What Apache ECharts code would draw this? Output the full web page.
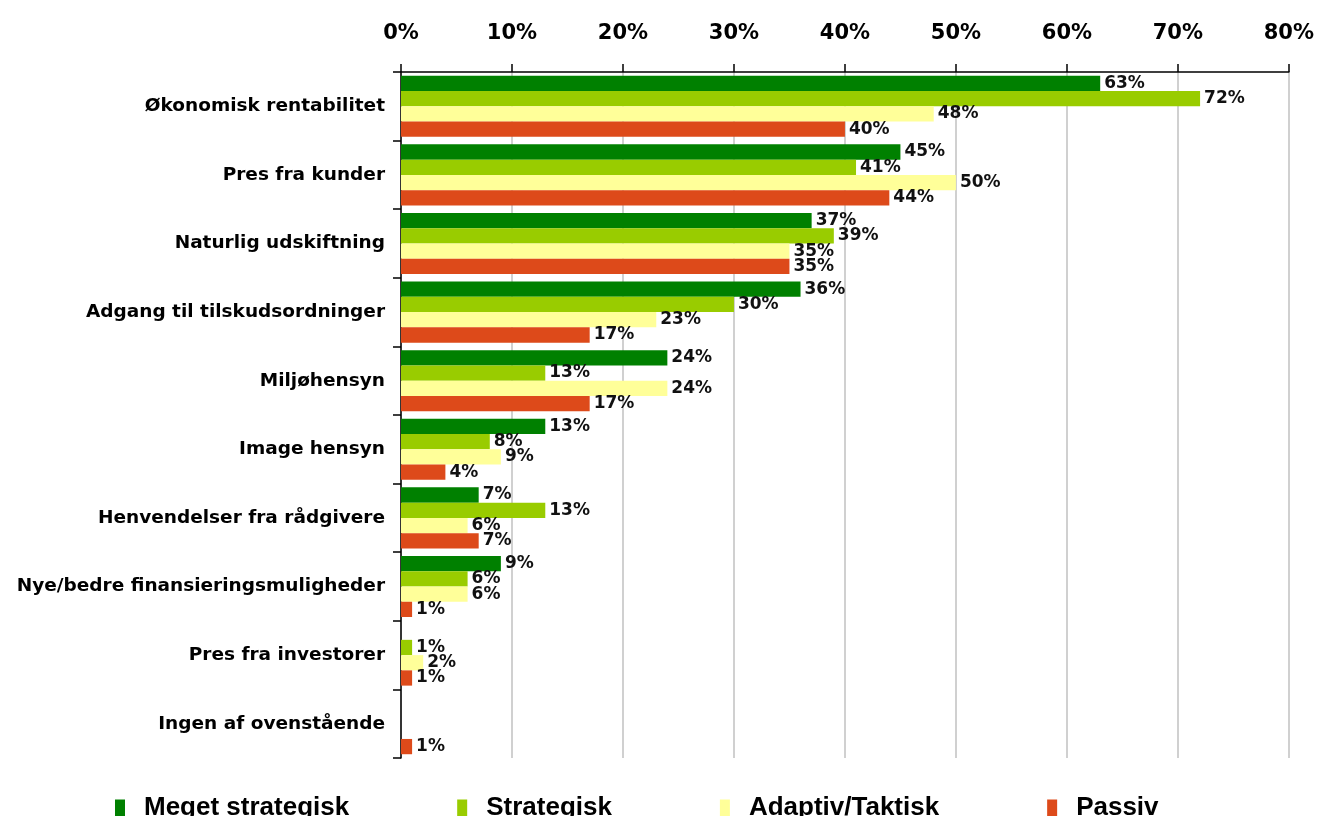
<!DOCTYPE html>
<html>
<head>
<meta charset="utf-8">
<script src="https://cdn.jsdelivr.net/npm/echarts@6/dist/echarts.min.js"></script>
<style>
  html, body { margin: 0; padding: 0; background: #fff; }
  #chart { width: 1317px; height: 816px; }
</style>
</head>
<body>
<div id="chart"></div>
<script>
// kategorier (oppefra og ned)
var categories = [
  'Økonomisk rentabilitet',
  'Pres fra kunder',
  'Naturlig udskiftning',
  'Adgang til tilskudsordninger',
  'Miljøhensyn',
  'Image hensyn',
  'Henvendelser fra rådgivere',
  'Nye/bedre finansieringsmuligheder',
  'Pres fra investorer',
  'Ingen af ovenstående'
];
var seriesNames = ['Meget strategisk', 'Strategisk', 'Adaptiv/Taktisk', 'Passiv'];
// værdier i procent, '-' = ingen søjle
var megetStrategisk = [63, 45, 37, 36, 24, 13, 7, 9, '-', '-'];
var strategisk      = [72, 41, 39, 30, 13, 8, 13, 6, 1, '-'];
var adaptivTaktisk  = [48, 50, 35, 23, 24, 9, 6, 6, 2, '-'];
var passiv          = [40, 44, 35, 17, 17, 4, 7, 1, 1, 1];
var colors = ['#008000', '#99cc00', '#ffff99', '#dd4a1a'];

var font = 'DejaVu Sans, Arial, sans-serif';

function bar(name, data, color) {
  return {
    name: name,
    type: 'bar',
    data: data,
    barGap: '0%',
    barCategoryGap: '11%',
    itemStyle: { color: color },
    label: {
      show: true,
      position: 'right',
      distance: 4,
      formatter: '{c}%',
      fontFamily: font,
      fontWeight: 'bold',
      fontSize: 17,
      color: '#111'
    }
  };
}

var myChart = echarts.init(document.getElementById('chart'));
myChart.setOption({
  animation: false,
  color: colors,
  grid: { left: 401, right: 28, top: 72, bottom: 58 },
  legend: {
    bottom: -10,
    left: 110,
    itemWidth: 10,
    itemHeight: 17,
    itemGap: 108,
    icon: 'rect',
    textStyle: {
      fontFamily: 'Liberation Sans, Arial, sans-serif',
      fontWeight: 'bold',
      fontSize: 26,
      color: '#000',
      padding: [0, 0, 0, 14]
    },
    data: seriesNames
  },
  xAxis: {
    type: 'value',
    position: 'top',
    min: 0,
    max: 80,
    interval: 10,
    axisLine: { show: true, lineStyle: { color: '#000', width: 1.5 } },
    axisTick: { show: true, length: 8, lineStyle: { color: '#000', width: 1.5 } },
    axisLabel: {
      formatter: '{value}%',
      margin: 28,
      fontFamily: font,
      fontWeight: 'bold',
      fontSize: 21,
      color: '#000'
    },
    splitLine: { show: true, lineStyle: { color: '#c0c0c0', width: 1.5 } }
  },
  yAxis: {
    type: 'category',
    inverse: true,
    data: categories,
    axisLine: { show: true, lineStyle: { color: '#000', width: 1.5 } },
    axisTick: { show: true, length: 8, lineStyle: { color: '#000', width: 1.5 } },
    axisLabel: {
      margin: 16,
      fontFamily: font,
      fontWeight: 'bold',
      fontSize: 18.5,
      color: '#000'
    }
  },
  series: [
    bar(seriesNames[0], megetStrategisk, colors[0]),
    bar(seriesNames[1], strategisk, colors[1]),
    bar(seriesNames[2], adaptivTaktisk, colors[2]),
    bar(seriesNames[3], passiv, colors[3])
  ]
});
</script>
</body>
</html>
